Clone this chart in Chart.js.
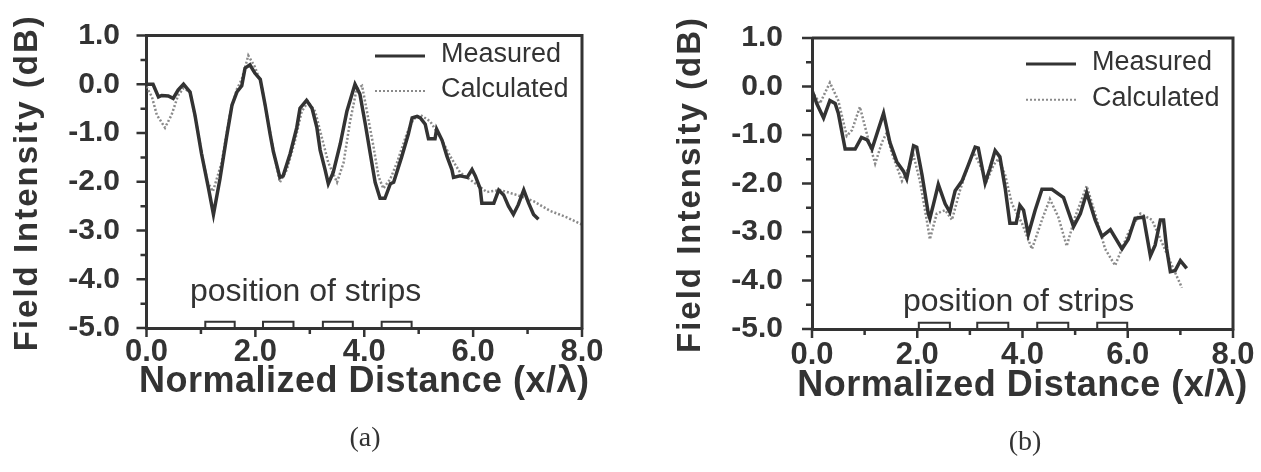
<!DOCTYPE html>
<html>
<head>
<meta charset="utf-8">
<script src="https://cdn.jsdelivr.net/npm/chart.js@4.4.0/dist/chart.umd.min.js"></script>
<style>
  body { margin: 0; background: #fff; }
  #wrap { position: relative; width: 1261px; height: 472px; overflow: hidden; background: #fff; }
  canvas { position: absolute; top: 0; }
  #chartA { left: 0; }
  #chartB { left: 640px; }
  .cap { position: absolute; font: 28px "Liberation Serif", "Times New Roman", serif; color: #333;
         transform: translate(-50%, -50%); }
</style>
</head>
<body>
<div id="wrap">
  <canvas id="chartA" width="640" height="472"></canvas>
  <canvas id="chartB" width="621" height="472"></canvas>
  <div class="cap" style="left:365px;top:437px">(a)</div>
  <div class="cap" style="left:1025px;top:441px">(b)</div>
</div>
<script>
// axis ticks
const xTicks = [0, 2, 4, 6, 8];
const xMinor = [1, 3, 5, 7];
const yTicks = [-5, -4, -3, -2, -1, 0, 1];
const yMinor = [-4.5, -3.5, -2.5, -1.5, -0.5, 0.5];
const stripBase = -5;
const stripTop = -4.87;

// (a) measured
const measuredAX = [0, 0.12, 0.22, 0.28, 0.40, 0.49, 0.58, 0.68, 0.80, 0.89, 1.01, 1.14, 1.23, 1.35, 1.47, 1.57,
  1.66, 1.75, 1.81, 1.90, 1.99, 2.09, 2.18, 2.27, 2.33, 2.45, 2.51, 2.64, 2.76, 2.82, 2.94, 3.04, 3.13, 3.19, 3.28,
  3.34, 3.43, 3.56, 3.68, 3.83, 3.92, 4.02, 4.11, 4.20, 4.29, 4.38, 4.48, 4.54, 4.69, 4.81, 4.88, 4.97, 5.03, 5.12,
  5.18, 5.30, 5.33, 5.43, 5.52, 5.61, 5.64, 5.76, 5.89, 5.98, 6.04, 6.13, 6.16, 6.38, 6.47, 6.56, 6.65, 6.74, 6.83,
  6.93, 7.02, 7.11, 7.20];
const measuredAY = [0, 0, -0.26, -0.23, -0.24, -0.29, -0.12, 0, -0.16, -0.63, -1.42, -2.14, -2.67, -1.94, -1.09, -0.43,
  -0.16, -0.03, 0.33, 0.40, 0.23, 0.10, -0.43, -1.02, -1.38, -1.91, -1.88, -1.42, -0.89, -0.49, -0.33, -0.49, -0.89,
  -1.35, -1.75, -2.04, -1.81, -1.22, -0.56, 0, -0.2, -0.82, -1.42, -2.01, -2.34, -2.34, -2.04, -2.01, -1.48, -1.02,
  -0.69, -0.66, -0.69, -0.82, -1.12, -1.12, -0.92, -1.15, -1.48, -1.75, -1.91, -1.88, -1.91, -1.75, -1.88, -2.14,
  -2.44, -2.44, -2.17, -2.27, -2.50, -2.67, -2.47, -2.17, -2.44, -2.67, -2.77];
// (a) calculated
const calculatedAX = [0, 0.10, 0.19, 0.34, 0.46, 0.58, 0.68, 0.80, 0.90, 1.02, 1.12, 1.22, 1.38, 1.53, 1.66, 1.75,
  1.87, 1.99, 2.11, 2.21, 2.33, 2.45, 2.58, 2.73, 2.85, 2.97, 3.10, 3.22, 3.34, 3.50, 3.62, 3.74, 3.86, 3.96, 4.05,
  4.17, 4.26, 4.35, 4.48, 4.60, 4.78, 4.90, 5.03, 5.21, 5.40, 5.58, 5.76, 6.01, 6.25, 6.50, 6.80, 7.11, 7.42, 7.72, 8.00];
const calculatedAY = [-0.05, -0.26, -0.63, -0.89, -0.63, -0.23, -0.08, -0.16, -0.70, -1.45, -2.00, -2.20, -1.61, -0.63,
  -0.10, 0.10, 0.59, 0.36, 0, -0.63, -1.35, -2.01, -1.75, -1.15, -0.56, -0.36, -0.56, -1.09, -1.61, -2.01, -1.61, -0.76,
  -0.10, -0.03, -0.56, -1.28, -1.88, -2.14, -1.94, -1.61, -1.02, -0.72, -0.63, -0.76, -1.09, -1.48, -1.81, -2.01, -2.21,
  -2.17, -2.27, -2.40, -2.60, -2.73, -2.88];
const stripStartA = [1.08, 2.14, 3.24, 4.32];
const stripEndA = [1.62, 2.70, 3.79, 4.87];

// (b) measured
const measuredBX = [0, 0.09, 0.22, 0.34, 0.44, 0.50, 0.63, 0.82, 0.94, 1.05, 1.14, 1.36, 1.48, 1.61, 1.74, 1.80, 1.93,
  1.99, 2.09, 2.21, 2.24, 2.31, 2.40, 2.53, 2.62, 2.72, 2.85, 2.97, 3.10, 3.16, 3.29, 3.38, 3.48, 3.57, 3.67, 3.76,
  3.88, 3.95, 4.02, 4.11, 4.24, 4.37, 4.56, 4.78, 4.97, 5.10, 5.22, 5.38, 5.51, 5.67, 5.89, 6.01, 6.14, 6.30, 6.43,
  6.52, 6.62, 6.68, 6.74, 6.81, 6.90, 7.00, 7.12];
const measuredBY = [-0.08, -0.35, -0.65, -0.29, -0.35, -0.55, -1.29, -1.29, -1.05, -1.10, -1.29, -0.55, -1.15, -1.55,
  -1.75, -1.90, -1.22, -1.25, -1.82, -2.62, -2.72, -2.42, -2.02, -2.42, -2.59, -2.15, -1.95, -1.62, -1.25, -1.27,
  -1.99, -1.69, -1.32, -1.45, -2.09, -2.82, -2.82, -2.45, -2.55, -3.05, -2.55, -2.12, -2.12, -2.29, -2.89, -2.62,
  -2.19, -2.75, -3.09, -2.95, -3.35, -3.15, -2.72, -2.69, -3.49, -3.27, -2.75, -2.75, -3.35, -3.82, -3.80, -3.59, -3.75];
// (b) calculated
const calculatedBX = [0, 0.15, 0.34, 0.50, 0.66, 0.76, 0.91, 1.07, 1.20, 1.33, 1.42, 1.51, 1.71, 1.83, 1.93, 2.05, 2.18,
  2.24, 2.37, 2.53, 2.66, 2.81, 2.97, 3.07, 3.19, 3.32, 3.45, 3.54, 3.67, 3.80, 3.99, 4.18, 4.37, 4.52, 4.68, 4.84,
  5.00, 5.22, 5.38, 5.57, 5.76, 6.01, 6.24, 6.46, 6.65, 6.84, 7.03];
const calculatedBY = [-0.1, -0.35, 0.08, -0.29, -1.02, -0.90, -0.42, -1.09, -1.59, -1.15, -0.95, -1.35, -1.95, -1.69,
  -1.42, -1.95, -2.75, -3.15, -2.62, -2.55, -2.75, -2.15, -1.62, -1.35, -1.62, -1.95, -1.62, -1.49, -1.82, -2.42,
  -2.82, -3.35, -2.75, -2.32, -2.69, -3.29, -2.69, -2.05, -2.62, -3.35, -3.69, -3.02, -2.62, -2.75, -3.22, -3.69, -4.15];
const stripStartB = [2.03, 3.14, 4.28, 5.42];
const stripEndB = [2.62, 3.73, 4.87, 5.99];

const INK = '#333';
const CALC = '#8a8a8a';
const SANS = '"Liberation Sans", Arial, Helvetica, sans-serif';

Chart.defaults.font.family = SANS;
Chart.defaults.color = INK;

function series(xs, ys) {
  return xs.map((x, i) => ({ x, y: ys[i] }));
}

// outline of each strip, broken by a null point between them
function strips(starts, ends) {
  const pts = [];
  starts.forEach((s, i) => {
    pts.push({ x: s, y: stripBase }, { x: s, y: stripTop }, { x: ends[i], y: stripTop },
      { x: ends[i], y: stripBase }, { x: ends[i], y: null });
  });
  return pts;
}

// box, tick marks, axis titles, legend and strip label
const frame = {
  id: 'frame',
  afterDraw(chart, args, o) {
    const { ctx, chartArea: a } = chart;
    const xs = chart.scales.x, ys = chart.scales.y;
    ctx.save();
    ctx.strokeStyle = INK;
    ctx.lineWidth = 3;
    ctx.beginPath();
    ctx.moveTo(a.left, a.top);
    ctx.lineTo(a.right, a.top);
    ctx.lineTo(a.right, a.bottom + 1.5);
    ctx.stroke();

    ctx.lineWidth = 2.5;
    ctx.beginPath();
    yTicks.forEach(v => { const p = ys.getPixelForValue(v); ctx.moveTo(a.left - 10, p); ctx.lineTo(a.left, p); });
    yMinor.forEach(v => { const p = ys.getPixelForValue(v); ctx.moveTo(a.left - 6, p); ctx.lineTo(a.left, p); });
    xTicks.forEach(v => { const p = xs.getPixelForValue(v); ctx.moveTo(p, a.bottom); ctx.lineTo(p, a.bottom + 9); });
    xMinor.forEach(v => { const p = xs.getPixelForValue(v); ctx.moveTo(p, a.bottom); ctx.lineTo(p, a.bottom + 6); });
    ctx.stroke();

    ctx.fillStyle = INK;
    ctx.textAlign = 'center';
    ctx.textBaseline = 'middle';
    // axis titles (drawn here so they are not squeezed to the plot size)
    ctx.font = 'bold 36px ' + SANS;
    ctx.letterSpacing = '0.5px';
    ctx.fillText(chart.options.scales.x.title.text, (a.left + a.right) / 2, a.bottom + o.xTitleDy);
    ctx.save();
    ctx.translate(o.yTitleX, (a.top + a.bottom) / 2 + 1);
    ctx.rotate(-Math.PI / 2);
    ctx.font = 'bold 33px ' + SANS;
    ctx.letterSpacing = '2px';
    ctx.fillText(chart.options.scales.y.title.text, 0, 0);
    ctx.restore();
    ctx.letterSpacing = '0px';

    // legend
    const ds = chart.data.datasets;
    ctx.font = '27px ' + SANS;
    ctx.textAlign = 'left';
    ctx.lineWidth = 3;
    ctx.beginPath();
    ctx.moveTo(a.right - 207, a.top + o.legend[0]);
    ctx.lineTo(a.right - 157, a.top + o.legend[0]);
    ctx.stroke();
    ctx.fillText(ds[0].label, a.right - 141, a.top + o.legend[0] - 1.5);
    ctx.strokeStyle = CALC;
    ctx.lineWidth = 2;
    ctx.setLineDash([2, 2]);
    ctx.beginPath();
    ctx.moveTo(a.right - 207, a.top + o.legend[1]);
    ctx.lineTo(a.right - 157, a.top + o.legend[1]);
    ctx.stroke();
    ctx.setLineDash([]);
    ctx.fillText(ds[1].label, a.right - 141, a.top + o.legend[1] - 1.5);

    ctx.font = '32px ' + SANS;
    ctx.textBaseline = 'alphabetic';
    ctx.fillText(ds[2].label, a.left + o.stripText[0], a.bottom - o.stripText[1]);
    ctx.restore();
  }
};

function makeChart(id, d) {
  return new Chart(document.getElementById(id), {
    type: 'line',
    data: {
      datasets: [
        { label: 'Measured', data: series(d.mx, d.my), borderColor: INK, borderWidth: 3.5, pointRadius: 0 },
        { label: 'Calculated', data: series(d.cx, d.cy), borderColor: CALC, borderWidth: 2.5,
          borderDash: [2, 2], pointRadius: 0 },
        { label: 'position of strips', data: strips(d.s0, d.s1), borderColor: INK, borderWidth: 2,
          pointRadius: 0, spanGaps: false, clip: false }
      ]
    },
    options: {
      responsive: false,
      animation: false,
      layout: { padding: { top: d.top, right: d.right, left: 0, bottom: 0 } },
      plugins: {
        legend: { display: false },
        tooltip: { enabled: false },
        frame: { legend: d.legend, stripText: d.stripText, xTitleDy: d.xTitleDy, yTitleX: d.yTitleX }
      },
      scales: {
        x: {
          type: 'linear', min: 0, max: 8,
          afterFit: s => { s.height = d.xh; },
          afterBuildTicks: s => { s.ticks = xTicks.map(v => ({ value: v })); },
          grid: { drawOnChartArea: false, color: 'rgba(0,0,0,0)', tickLength: 9 },
          border: { color: INK, width: 3 },
          ticks: { autoSkip: false, maxRotation: 0, padding: d.xpad, color: INK,
                   font: { size: 31, weight: 'bold', lineHeight: 1 },
                   callback: v => v.toFixed(1) },
          title: { display: false, text: 'Normalized Distance (x/λ)' }
        },
        y: {
          type: 'linear', min: -5, max: 1,
          afterFit: s => { s.width = d.yw; },
          afterBuildTicks: s => { s.ticks = yTicks.map(v => ({ value: v })); },
          grid: { drawOnChartArea: false, color: 'rgba(0,0,0,0)', tickLength: 9 },
          border: { color: INK, width: 3 },
          ticks: { autoSkip: false, padding: d.ypad, color: INK,
                   font: { size: 30, weight: 'bold' },
                   callback: v => v.toFixed(1) },
          title: { display: false, text: 'Field Intensity (dB)' }
        }
      }
    },
    plugins: [frame]
  });
}

makeChart('chartA', {
  mx: measuredAX, my: measuredAY, cx: calculatedAX, cy: calculatedAY, s0: stripStartA, s1: stripEndA,
  top: 24.4, right: 58, xh: 144, yw: 146.5, xpad: 0, ypad: 17.5, xTitleDy: 54, yTitleX: 27.5,
  legend: [20.6, 55.6], stripText: [43.5, 27]
});
makeChart('chartB', {
  mx: measuredBX, my: measuredBY, cx: calculatedBX, cy: calculatedBY, s0: stripStartB, s1: stripEndB,
  top: 29, right: 28, xh: 143, yw: 172, xpad: 2, ypad: 20, xTitleDy: 57, yTitleX: 51,
  legend: [26, 61.7], stripText: [91, 18]
});
</script>
</body>
</html>
